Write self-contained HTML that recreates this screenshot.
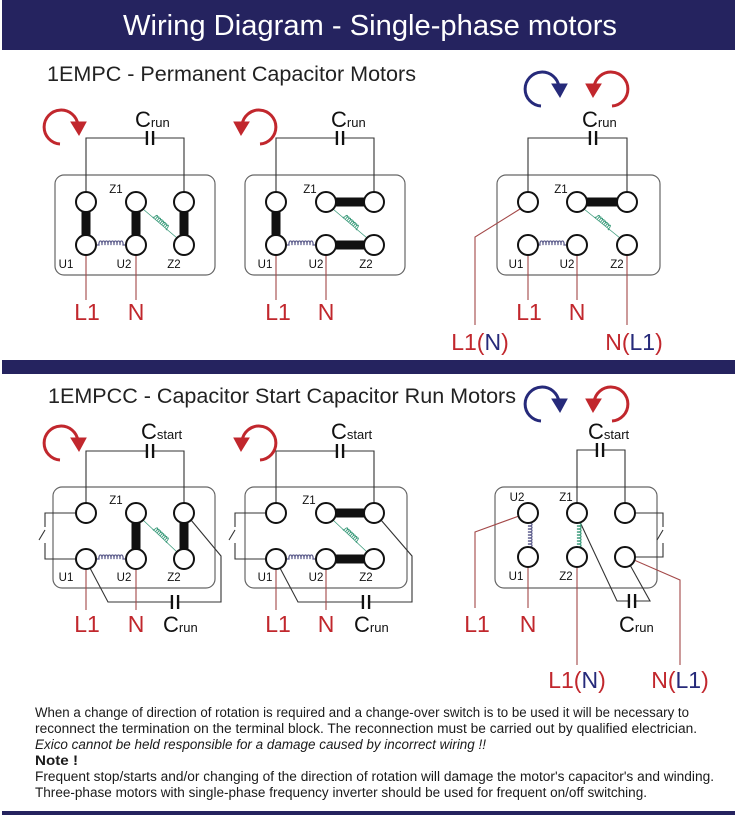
<!DOCTYPE html>
<html><head><meta charset="utf-8"><style>
html,body{margin:0;padding:0;background:#fff}
svg{display:block}
text{font-family:"Liberation Sans",sans-serif}
</style></head><body>
<svg width="735" height="815" viewBox="0 0 735 815" xmlns="http://www.w3.org/2000/svg">
<defs>
  <path id="coil" d="M-14,0 l2,0 a1.6,3 0 1,1 3,0 a1.6,3 0 1,1 3,0 a1.6,3 0 1,1 3,0 a1.6,3 0 1,1 3,0 a1.6,3 0 1,1 3,0 a1.6,3 0 1,1 3,0 a1.6,3 0 1,1 3,0 a1.6,3 0 1,1 3,0 l2,0" fill="none" stroke-width="1.2"/>
  <g id="cw">
    <path d="M-2,17 A17,17 0 1,1 16,-2" fill="none" stroke-width="3"/>
    <polygon points="9,-5 24,-5 17,8"/>
  </g>
  <g id="cap"><line x1="-3" y1="-7" x2="-3" y2="7" stroke="#111" stroke-width="2.5"/><line x1="3" y1="-7" x2="3" y2="7" stroke="#111" stroke-width="2.5"/><rect x="-1.8" y="-8" width="3.6" height="16" fill="#fff"/></g>
</defs>

<rect x="2" y="0" width="733" height="50" fill="#25235f"/>
<text x="370" y="35" font-size="29" fill="#fff" text-anchor="middle" textLength="494" lengthAdjust="spacingAndGlyphs">Wiring Diagram - Single-phase motors</text>
<text x="47" y="81" font-size="21" fill="#222" textLength="369" lengthAdjust="spacingAndGlyphs">1EMPC - Permanent Capacitor Motors</text>

<rect x="2" y="360" width="733" height="14" fill="#25235f"/>
<text x="48" y="403" font-size="21" fill="#222" textLength="468" lengthAdjust="spacingAndGlyphs">1EMPCC - Capacitor Start Capacitor Run Motors</text>

<g fill="none" stroke="#666" stroke-width="1.2">
  <rect x="55" y="175" width="160" height="100" rx="9"/>
  <rect x="245" y="175" width="160" height="100" rx="9"/>
  <rect x="497" y="175" width="163" height="100" rx="9"/>
  <rect x="53" y="487" width="162" height="101" rx="9"/>
  <rect x="245" y="487" width="162" height="101" rx="9"/>
  <rect x="495" y="487" width="162" height="101" rx="9"/>
</g>

<use href="#cw" transform="translate(62,127)" fill="#c1272d" stroke="#c1272d"/>
<use href="#cw" transform="translate(258,127) scale(-1,1)" fill="#c1272d" stroke="#c1272d"/>
<use href="#cw" transform="translate(543,89)" fill="#262a7a" stroke="#262a7a"/>
<use href="#cw" transform="translate(610,89) scale(-1,1)" fill="#c1272d" stroke="#c1272d"/>
<use href="#cw" transform="translate(62,443)" fill="#c1272d" stroke="#c1272d"/>
<use href="#cw" transform="translate(258,443) scale(-1,1)" fill="#c1272d" stroke="#c1272d"/>
<use href="#cw" transform="translate(543,404)" fill="#262a7a" stroke="#262a7a"/>
<use href="#cw" transform="translate(610,404) scale(-1,1)" fill="#c1272d" stroke="#c1272d"/>

<g fill="none" stroke="#333" stroke-width="1.1">
  <polyline points="86,192 86,138 184,138 184,192"/>
  <polyline points="276,192 276,138 374,138 374,192"/>
  <polyline points="528,192 528,138 627,138 627,192"/>
  <polyline points="86,503 86,451 184,451 184,503"/>
  <polyline points="276,503 276,451 374,451 374,503"/>
  <polyline points="577,503 577,450 625,450 625,503"/>
  <polyline points="76,513 45,513 45,527"/><line x1="45" y1="530" x2="39" y2="540"/><polyline points="45,543 45,559 76,559"/>
  <polyline points="266,513 235,513 235,527"/><line x1="235" y1="530" x2="229" y2="540"/><polyline points="235,543 235,559 266,559"/>
  <polyline points="635,513 663,513 663,527"/><line x1="663" y1="530" x2="657" y2="540"/><polyline points="663,543 663,557 635,557"/>
  <polyline points="90,568 108,602 221,602 221,556 191,520"/>
  <polyline points="280,568 298,602 412,602 412,556 381,520"/>
  <polyline points="580,522 617,601 650,601 630,565"/>
</g>
<use href="#cap" transform="translate(150,138)"/>
<use href="#cap" transform="translate(340,138)"/>
<use href="#cap" transform="translate(593,138)"/>
<use href="#cap" transform="translate(150,451)"/>
<use href="#cap" transform="translate(340,451)"/>
<use href="#cap" transform="translate(600,450)"/>
<use href="#cap" transform="translate(175,602)"/>
<use href="#cap" transform="translate(366,602)"/>
<use href="#cap" transform="translate(632,601)"/>

<g fill="none" stroke="#a34848" stroke-width="1.1">
  <line x1="86" y1="255" x2="86" y2="300"/><line x1="136" y1="255" x2="136" y2="300"/>
  <line x1="276" y1="255" x2="276" y2="300"/><line x1="326" y1="255" x2="326" y2="300"/>
  <line x1="528" y1="255" x2="528" y2="300"/><line x1="577" y1="255" x2="577" y2="300"/>
  <polyline points="520,209 475,237 475,325"/>
  <line x1="627" y1="255" x2="627" y2="325"/>
  <line x1="86" y1="569" x2="86" y2="610"/><line x1="136" y1="569" x2="136" y2="610"/>
  <line x1="276" y1="569" x2="276" y2="610"/><line x1="326" y1="569" x2="326" y2="610"/>
  <polyline points="519,516 475,532 475,608"/>
  <line x1="528" y1="567" x2="528" y2="608"/>
  <line x1="577" y1="567" x2="577" y2="665"/>
  <polyline points="634,560 680,580 680,665"/>
</g>

<g stroke="#5a5a8a"><use href="#coil" transform="translate(111,245)"/><use href="#coil" transform="translate(301,245)"/><use href="#coil" transform="translate(552,245)"/>
<use href="#coil" transform="translate(111,559)"/><use href="#coil" transform="translate(301,559)"/><use href="#coil" transform="translate(528,535) rotate(90)"/></g>
<g stroke="#3a9a7a">
  <line x1="143" y1="209" x2="177" y2="238" stroke-width="0.8"/><use href="#coil" transform="translate(160,223.5) rotate(41.8) scale(0.7,1)"/>
  <line x1="333" y1="209" x2="367" y2="238" stroke-width="0.8"/><use href="#coil" transform="translate(350,223.5) rotate(41.8) scale(0.7,1)"/>
  <line x1="584" y1="209" x2="620" y2="238" stroke-width="0.8"/><use href="#coil" transform="translate(602,223.5) rotate(41.8) scale(0.7,1)"/>
  <line x1="143" y1="520" x2="177" y2="552" stroke-width="0.8"/><use href="#coil" transform="translate(160,536) rotate(43) scale(0.7,1)"/>
  <line x1="333" y1="520" x2="367" y2="552" stroke-width="0.8"/><use href="#coil" transform="translate(350,536) rotate(43) scale(0.7,1)"/>
  <use href="#coil" transform="translate(577,535) rotate(90)"/>
</g>

<g stroke="#111" stroke-width="9">
  <line x1="86" y1="202" x2="86" y2="245"/><line x1="136" y1="202" x2="136" y2="245"/><line x1="184" y1="202" x2="184" y2="245"/>
  <line x1="276" y1="202" x2="276" y2="245"/><line x1="326" y1="202" x2="374" y2="202"/><line x1="326" y1="245" x2="374" y2="245"/>
  <line x1="577" y1="202" x2="627" y2="202"/>
  <line x1="136" y1="513" x2="136" y2="559"/><line x1="184" y1="513" x2="184" y2="559"/>
  <line x1="326" y1="513" x2="374" y2="513"/><line x1="326" y1="559" x2="374" y2="559"/>
</g>

<g fill="#fff" stroke="#111" stroke-width="2">
  <circle cx="86" cy="202" r="10"/><circle cx="136" cy="202" r="10"/><circle cx="184" cy="202" r="10"/>
  <circle cx="86" cy="245" r="10"/><circle cx="136" cy="245" r="10"/><circle cx="184" cy="245" r="10"/>
  <circle cx="276" cy="202" r="10"/><circle cx="326" cy="202" r="10"/><circle cx="374" cy="202" r="10"/>
  <circle cx="276" cy="245" r="10"/><circle cx="326" cy="245" r="10"/><circle cx="374" cy="245" r="10"/>
  <circle cx="528" cy="202" r="10"/><circle cx="577" cy="202" r="10"/><circle cx="627" cy="202" r="10"/>
  <circle cx="528" cy="245" r="10"/><circle cx="577" cy="245" r="10"/><circle cx="627" cy="245" r="10"/>
  <circle cx="86" cy="513" r="10"/><circle cx="136" cy="513" r="10"/><circle cx="184" cy="513" r="10"/>
  <circle cx="86" cy="559" r="10"/><circle cx="136" cy="559" r="10"/><circle cx="184" cy="559" r="10"/>
  <circle cx="276" cy="513" r="10"/><circle cx="326" cy="513" r="10"/><circle cx="374" cy="513" r="10"/>
  <circle cx="276" cy="559" r="10"/><circle cx="326" cy="559" r="10"/><circle cx="374" cy="559" r="10"/>
  <circle cx="528" cy="513" r="10"/><circle cx="577" cy="513" r="10"/><circle cx="625" cy="513" r="10"/>
  <circle cx="528" cy="557" r="10"/><circle cx="577" cy="557" r="10"/><circle cx="625" cy="557" r="10"/>
</g>

<g font-size="11.5" fill="#111" text-anchor="middle">
  <text x="116" y="193">Z1</text><text x="66" y="268">U1</text><text x="124" y="268">U2</text><text x="174" y="268">Z2</text>
  <text x="310" y="193">Z1</text><text x="265" y="268">U1</text><text x="316" y="268">U2</text><text x="366" y="268">Z2</text>
  <text x="561" y="193">Z1</text><text x="516" y="268">U1</text><text x="567" y="268">U2</text><text x="617" y="268">Z2</text>
  <text x="116" y="504">Z1</text><text x="66" y="581">U1</text><text x="124" y="581">U2</text><text x="174" y="581">Z2</text>
  <text x="309" y="504">Z1</text><text x="265" y="581">U1</text><text x="316" y="581">U2</text><text x="366" y="581">Z2</text>
  <text x="517" y="501">U2</text><text x="566" y="501">Z1</text><text x="516" y="580">U1</text><text x="566" y="580">Z2</text>
</g>

<g fill="#111">
  <text x="135" y="127" font-size="22">C<tspan font-size="13">run</tspan></text>
  <text x="331" y="127" font-size="22">C<tspan font-size="13">run</tspan></text>
  <text x="582" y="127" font-size="22">C<tspan font-size="13">run</tspan></text>
  <text x="141" y="439" font-size="22">C<tspan font-size="13">start</tspan></text>
  <text x="331" y="439" font-size="22">C<tspan font-size="13">start</tspan></text>
  <text x="588" y="439" font-size="22">C<tspan font-size="13">start</tspan></text>
  <text x="163" y="632" font-size="22">C<tspan font-size="13">run</tspan></text>
  <text x="354" y="632" font-size="22">C<tspan font-size="13">run</tspan></text>
  <text x="619" y="632" font-size="22">C<tspan font-size="13">run</tspan></text>
</g>

<g font-size="23" fill="#c1272d" text-anchor="middle">
  <text x="87" y="320">L1</text><text x="136" y="320">N</text>
  <text x="278" y="320">L1</text><text x="326" y="320">N</text>
  <text x="529" y="320">L1</text><text x="577" y="320">N</text>
  <text x="480" y="350">L1(<tspan fill="#262a7a">N</tspan>)</text>
  <text x="634" y="350">N(<tspan fill="#262a7a">L1</tspan>)</text>
  <text x="87" y="632">L1</text><text x="136" y="632">N</text>
  <text x="278" y="632">L1</text><text x="326" y="632">N</text>
  <text x="477" y="632">L1</text><text x="528" y="632">N</text>
  <text x="577" y="688">L1(<tspan fill="#262a7a">N</tspan>)</text>
  <text x="680" y="688">N(<tspan fill="#262a7a">L1</tspan>)</text>
</g>

<g font-size="13.5" fill="#1a1a1a">
  <text x="35" y="717" textLength="654" lengthAdjust="spacingAndGlyphs">When a change of direction of rotation is required and a change-over switch is to be used it will be necessary to</text>
  <text x="35" y="733" textLength="662" lengthAdjust="spacingAndGlyphs">reconnect the termination on the terminal block. The reconnection must be carried out by qualified electrician.</text>
  <text x="35" y="749" font-style="italic" textLength="451" lengthAdjust="spacingAndGlyphs">Exico cannot be held responsible for a damage caused by incorrect wiring !!</text>
  <text x="35" y="765" font-weight="bold" textLength="43" lengthAdjust="spacingAndGlyphs">Note !</text>
  <text x="35" y="781" textLength="679" lengthAdjust="spacingAndGlyphs">Frequent stop/starts and/or changing of the direction of rotation will damage the motor's capacitor's and winding.</text>
  <text x="35" y="797" textLength="612" lengthAdjust="spacingAndGlyphs">Three-phase motors with single-phase frequency inverter should be used for frequent on/off switching.</text>
</g>
<rect x="2" y="811" width="733" height="4" fill="#25235f"/>
</svg>
</body></html>
